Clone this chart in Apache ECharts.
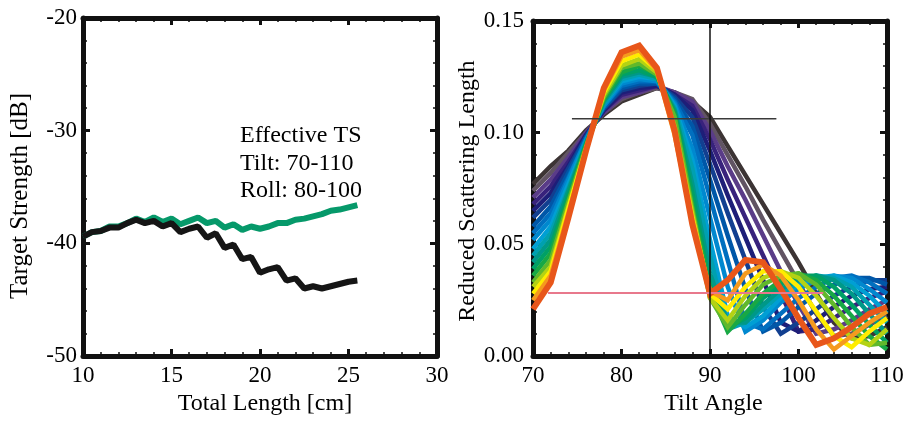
<!DOCTYPE html>
<html>
<head>
<meta charset="utf-8">
<script src="https://cdn.jsdelivr.net/npm/echarts@6/dist/echarts.min.js"></script>
<style>
  html, body { margin: 0; padding: 0; background: #fff; }
  #chart { width: 910px; height: 421px; }
</style>
</head>
<body>
<div id="chart"></div>
<script>
// ---- Left panel: effective target strength vs. total length ----
const totalLength = [10, 10.5, 11, 11.5, 12, 12.5, 13, 13.5, 14, 14.5, 15, 15.5, 16, 16.5, 17, 17.5,
                     18, 18.5, 19, 19.5, 20, 20.5, 21, 21.5, 22, 22.5, 23, 23.5, 24, 24.5, 25, 25.5];
const tsGreen = [-39.4, -39.0, -38.9, -38.5, -38.5, -38.2, -37.8, -38.1, -37.7, -38.1, -37.8, -38.3, -38.0, -37.7, -38.2, -38.0,
                 -38.6, -38.3, -38.8, -38.5, -38.7, -38.5, -38.2, -38.2, -37.9, -37.8, -37.6, -37.4, -37.1, -37.0, -36.8, -36.6];
const tsBlack = [-39.4, -39.0, -38.9, -38.6, -38.6, -38.2, -37.9, -38.2, -38.0, -38.5, -38.2, -39.0, -38.7, -38.5, -39.5, -39.1,
                 -40.4, -40.1, -41.4, -41.2, -42.6, -42.3, -42.1, -43.3, -43.1, -44.0, -43.8, -44.0, -43.8, -43.6, -43.4, -43.3];
const tsNote = ['Effective TS', 'Tilt: 70-110', 'Roll: 80-100'];

// ---- Right panel: reduced scattering length vs. tilt angle ----
const tilt = [70, 72, 74, 76, 78, 80, 82, 84, 86, 88, 90, 92, 94, 96, 98, 100, 102, 104, 106, 108, 110];
const rs01 = [.077, .085, .092, .101, .108, .114, .117, .120, .118, .114, .107, .094, .081, .068, .055, .042, .028, .015, .008, .009, .013];
const rs02 = [.074, .082, .091, .100, .109, .115, .118, .120, .118, .115, .104, .090, .076, .061, .047, .033, .019, .009, .010, .014, .018];
const rs03 = [.071, .079, .089, .100, .109, .116, .118, .121, .118, .114, .101, .085, .070, .054, .038, .023, .010, .012, .016, .021, .025];
const rs04 = [.068, .076, .087, .099, .110, .117, .119, .121, .117, .112, .097, .079, .062, .045, .028, .011, .012, .017, .022, .026, .029];
const rs05 = [.065, .073, .085, .099, .110, .118, .120, .121, .117, .110, .092, .072, .053, .034, .015, .011, .016, .022, .027, .030, .031];
const rs06 = [.062, .070, .084, .098, .111, .119, .121, .122, .116, .107, .086, .064, .043, .022, .010, .015, .021, .027, .031, .034, .034];
const rs07 = [.058, .067, .082, .098, .111, .120, .122, .122, .115, .103, .079, .054, .030, .011, .015, .022, .028, .032, .035, .035, .032];
const rs08 = [.055, .064, .080, .097, .112, .121, .123, .123, .114, .099, .071, .043, .015, .012, .019, .026, .031, .035, .036, .033, .028];
const rs09 = [.052, .061, .079, .097, .112, .122, .124, .123, .113, .093, .062, .031, .011, .016, .024, .030, .034, .036, .035, .030, .024];
const rs10 = [.048, .058, .077, .096, .113, .123, .125, .124, .112, .088, .052, .018, .013, .018, .026, .032, .035, .036, .033, .027, .019];
const rs11 = [.045, .055, .075, .096, .113, .124, .126, .124, .111, .084, .045, .012, .015, .021, .028, .033, .036, .035, .031, .023, .015];
const rs12 = [.042, .052, .074, .095, .114, .125, .127, .125, .110, .077, .037, .015, .015, .023, .030, .034, .036, .034, .028, .019, .010];
const rs13 = [.039, .049, .072, .095, .115, .126, .128, .125, .109, .073, .032, .013, .017, .026, .032, .036, .036, .031, .023, .014, .006];
const rs14 = [.036, .046, .070, .094, .115, .127, .130, .126, .108, .068, .029, .011, .019, .028, .034, .037, .034, .027, .018, .009, .003];
const rs15 = [.033, .043, .069, .094, .116, .129, .131, .126, .107, .066, .026, .013, .023, .032, .036, .037, .032, .023, .013, .005, .006];
const rs16 = [.031, .040, .067, .093, .117, .130, .133, .127, .103, .064, .026, .016, .027, .035, .038, .035, .027, .017, .008, .005, .012];
const rs17 = [.028, .038, .066, .093, .118, .132, .135, .128, .101, .062, .028, .021, .031, .038, .038, .031, .020, .009, .004, .011, .017];
const rs18 = [.025, .036, .064, .092, .119, .134, .137, .128, .099, .061, .029, .025, .037, .041, .036, .025, .012, .003, .009, .015, .020];
const rs19 = [.021, .033, .062, .092, .120, .136, .139, .129, .101, .059, .028, .034, .043, .042, .030, .017, .005, .008, .013, .019, .022];

// Reference markers on the tilt plot
const peakLevel = 0.1062;
const peakSpan = [74.4, 97.5];
const floorLevel = 0.0283;
const floorSpan = [71.7, 102.8];
const tiltCenter = 90;

const rsCurves = [rs01, rs02, rs03, rs04, rs05, rs06, rs07, rs08, rs09, rs10,
                  rs11, rs12, rs13, rs14, rs15, rs16, rs17, rs18, rs19];
const rsColors = ['#3c3434', '#615463', '#5a3c88', '#38227c', '#1e1e78', '#123f90', '#0057a8', '#006fbf',
                  '#0088cf', '#009fd4', '#00a0b0', '#009888', '#00a066', '#18a845', '#60b82c', '#b4d214',
                  '#ffec00', '#f59a1e', '#e8561a'];

const FONT = 'Liberation Serif';
const zip = (xs, ys) => xs.map((x, i) => [x, ys[i]]);

function frameAxis(grid, pos, opts) {
  const base = {
    gridIndex: grid,
    type: 'value',
    position: pos,
    axisLine: { show: true, onZero: false, lineStyle: { color: '#111', width: 5 } },
    axisTick: { show: true, inside: true, length: 7, lineStyle: { color: '#111', width: 3 } },
    minorTick: { show: true, splitNumber: 5, length: 4, lineStyle: { color: '#111', width: 1.5 } },
    splitLine: { show: false },
    axisLabel: { show: false },
  };
  return Object.assign(base, opts);
}

const labelStyle = { fontFamily: FONT, fontSize: 23, color: '#000' };
const nameStyle = { fontFamily: FONT, fontSize: 24, color: '#000' };

const xAxes = [
  frameAxis(0, 'bottom', { min: 10, max: 30, interval: 5,
    axisLabel: Object.assign({ show: true, margin: 8 }, labelStyle),
    name: 'Total Length [cm]', nameLocation: 'middle', nameGap: 28,
    nameTextStyle: Object.assign({ padding: [0, 0, 0, 10] }, nameStyle) }),
  frameAxis(0, 'top', { min: 10, max: 30, interval: 5 }),
  frameAxis(1, 'bottom', { min: 70, max: 110, interval: 10,
    axisLabel: Object.assign({ show: true, margin: 8 }, labelStyle),
    name: 'Tilt Angle', nameLocation: 'middle', nameGap: 27,
    nameTextStyle: Object.assign({ padding: [0, 0, 0, 7] }, nameStyle) }),
  frameAxis(1, 'top', { min: 70, max: 110, interval: 10 }),
];
const yAxes = [
  frameAxis(0, 'left', { min: -50, max: -20, interval: 10,
    axisLabel: Object.assign({ show: true, margin: 6 }, labelStyle),
    name: 'Target Strength [dB]', nameLocation: 'middle', nameGap: 50,
    nameTextStyle: Object.assign({}, nameStyle, { fontSize: 25, padding: [0, 18, 0, 0] }) }),
  frameAxis(0, 'right', { min: -50, max: -20, interval: 10 }),
  frameAxis(1, 'left', { min: 0, max: 0.15, interval: 0.05,
    axisLabel: Object.assign({ show: true, margin: 9, formatter: v => v.toFixed(2) }, labelStyle),
    name: 'Reduced Scattering Length', nameLocation: 'middle', nameGap: 49,
    nameTextStyle: Object.assign({ padding: [0, 5, 0, 0] }, nameStyle) }),
  frameAxis(1, 'right', { min: 0, max: 0.15, interval: 0.05 }),
];

const series = [
  { type: 'line', xAxisIndex: 0, yAxisIndex: 0, data: zip(totalLength, tsGreen), symbol: 'none',
    lineStyle: { color: '#06996a', width: 6 }, z: 3 },
  { type: 'line', xAxisIndex: 0, yAxisIndex: 0, data: zip(totalLength, tsBlack), symbol: 'none',
    lineStyle: { color: '#151515', width: 6 }, z: 4 },
];

// tilt curves, widest lobe drawn first so the narrow ones sit on top
rsCurves.forEach((vals, i) => {
  const w = i === rsCurves.length - 1 ? 6 : 4.5;
  series.push({ type: 'line', xAxisIndex: 2, yAxisIndex: 2, data: zip(tilt, vals), symbol: 'none',
    lineStyle: { color: rsColors[i], width: w, join: 'miter' }, z: 3 });
});

series.push(
  { type: 'line', xAxisIndex: 2, yAxisIndex: 2, symbol: 'none', z: 5,
    data: [[peakSpan[0], peakLevel], [peakSpan[1], peakLevel]], lineStyle: { color: '#3a3a3a', width: 1.5 } },
  { type: 'line', xAxisIndex: 2, yAxisIndex: 2, symbol: 'none', z: 5,
    data: [[floorSpan[0], floorLevel], [floorSpan[1], floorLevel]], lineStyle: { color: '#e8788c', width: 2 } },
  { type: 'line', xAxisIndex: 2, yAxisIndex: 2, symbol: 'none', z: 5,
    data: [[tiltCenter, 0], [tiltCenter, 0.15]], lineStyle: { color: '#111', width: 1.5 } }
);

const chart = echarts.init(document.getElementById('chart'), null, { renderer: 'canvas' });
chart.setOption({
  animation: false,
  backgroundColor: '#fff',
  grid: [
    { left: 83, top: 18, width: 354, height: 349 },
    { left: 533, top: 21, width: 354, height: 345 },
  ],
  xAxis: xAxes,
  yAxis: yAxes,
  series: series,
  graphic: tsNote.map((t, i) => ({
    type: 'text', left: 240, top: 124 + i * 27.5, silent: true,
    style: { text: t, font: '24px "' + FONT + '"', fill: '#000' },
  })),
});
</script>
</body>
</html>
